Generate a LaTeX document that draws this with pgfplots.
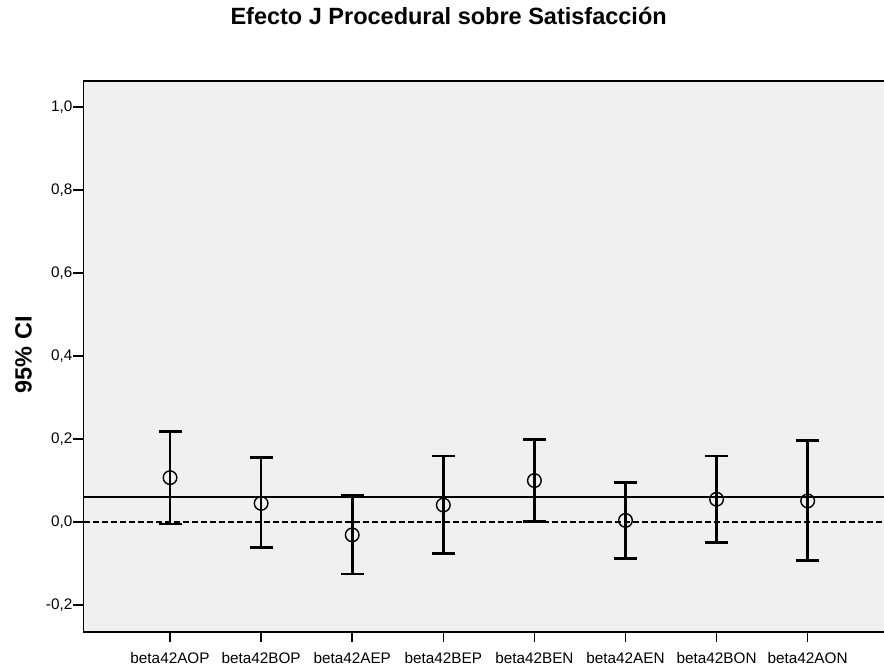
\documentclass[border=0pt]{standalone}
\usepackage{fontspec}
\setmainfont{Liberation Sans}
\usepackage{pgfplots}
\usepackage{pgfplotstable}
\pgfplotsset{compat=1.18}
\usetikzlibrary{calc}
\definecolor{bgc}{HTML}{F0F0F0}
% x = category index, m = mean, lo/hi = 95% CI bounds
\pgfplotstableread{
x m hi lo
0 0.107 0.219 -0.005
1 0.045 0.155 -0.062
2 -0.031 0.064 -0.125
3 0.041 0.159 -0.075
4 0.100 0.199 0.001
5 0.004 0.096 -0.087
6 0.055 0.159 -0.049
7 0.051 0.197 -0.093
}\citable
\pgfplotstablecreatecol[expr={\thisrow{hi}-\thisrow{m}}]{ep}\citable
\pgfplotstablecreatecol[expr={\thisrow{m}-\thisrow{lo}}]{em}\citable
\begin{document}
\begin{tikzpicture}
\begin{axis}[name=ax, scale only axis, width=802.5bp, height=551bp,
  xmin=-0.95, xmax=7.86, ymin=-0.265, ymax=1.063,
  axis background/.style={fill=bgc},
  axis line style={line width=1.5bp},
  tick style={line width=1.5bp, black},
  tick align=outside, major tick length=10bp,
  xtick pos=bottom, ytick pos=left,
  xtick={0,...,7},
  xticklabels={beta42AOP,beta42BOP,beta42AEP,beta42BEP,beta42BEN,beta42AEN,beta42BON,beta42AON},
  ytick={-0.2,0,0.2,0.4,0.6,0.8,1.0},
  yticklabels={{-0,2},{0,0},{0,2},{0,4},{0,6},{0,8},{1,0}},
  xticklabel style={font=\fontsize{15.3bp}{17bp}\selectfont, inner sep=0pt, anchor=north, yshift=-10bp},
  yticklabel style={font=\fontsize{15.3bp}{17bp}\selectfont, inner sep=0pt, anchor=east, xshift=-1bp},
  ylabel={95\% CI},
  ylabel style={font=\bfseries\fontsize{23.5bp}{26bp}\selectfont, at={(axis description cs:-0.0748,0.503)}, anchor=center},
  title={Efecto J Procedural sobre Satisfacción},
  title style={font=\bfseries\fontsize{23.5bp}{26bp}\selectfont, at={(axis description cs:0.455,1.108)}, anchor=center},
  clip=false,
]
\addplot[black, line width=1.5bp, dash pattern=on 6bp off 3bp] coordinates {(-0.95,0) (7.86,0)};
\addplot[black, line width=1.6bp] coordinates {(-0.95,0.061) (7.86,0.061)};
\addplot[black, only marks, mark=o, mark size=6.8bp,
  mark options={line width=1.4bp, fill=bgc},
  error bars/.cd, y dir=both, y explicit,
  error bar style={line width=2.7bp, black},
  error mark options={line width=2.7bp, mark size=11.5bp, rotate=90}]
  table[x=x, y=m, y error plus=ep, y error minus=em] {\citable};
\end{axis}
\pgfresetboundingbox
\path ($(ax.south west)+(-83.5bp,-33bp)$) rectangle ($(ax.north east)+(-2bp,81bp)$);
\end{tikzpicture}
\end{document}
